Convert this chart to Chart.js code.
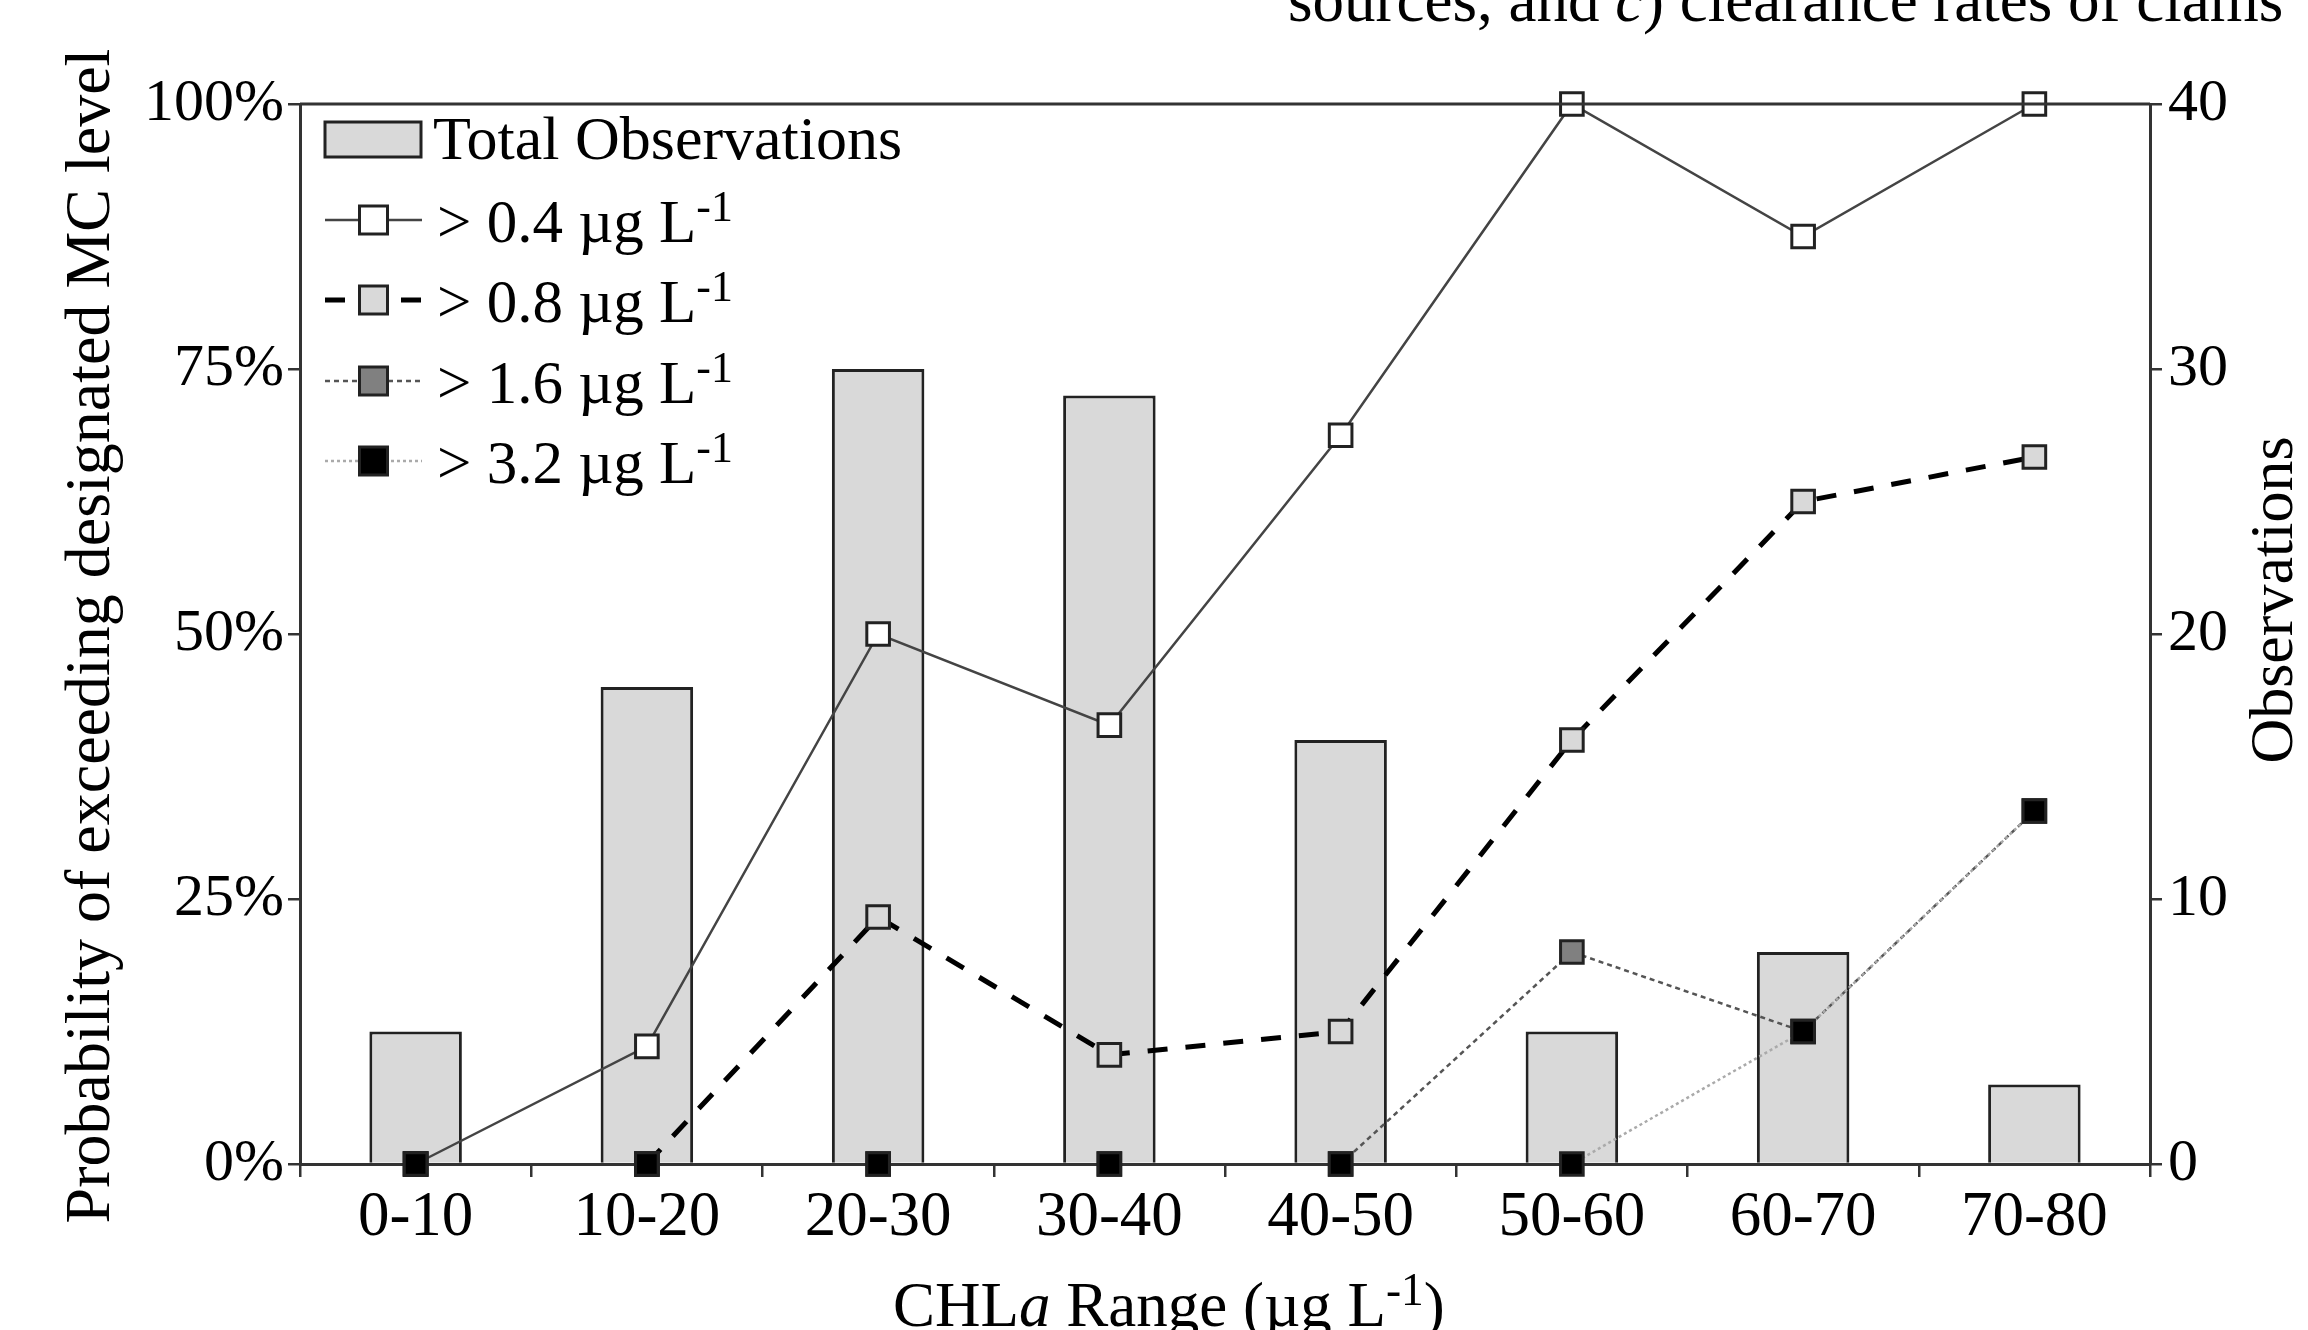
<!DOCTYPE html>
<html>
<head>
<meta charset="utf-8">
<script src="https://cdn.jsdelivr.net/npm/chart.js@4/dist/chart.umd.min.js"></script>
<style>
  html, body { margin: 0; padding: 0; background: #fff; }
  #wrap { width: 2308px; height: 1330px; position: relative; }
</style>
</head>
<body>
<div id="wrap"><canvas id="myChart"></canvas></div>
<script>
const categories = ['0-10', '10-20', '20-30', '30-40', '40-50', '50-60', '60-70', '70-80'];
// number of samples per CHLa range (right axis)
const observations = [5, 18, 30, 29, 16, 5, 8, 3];
// probability (%) of exceeding each MC level
const over04 = [0, 11.1, 50, 41.4, 68.75, 100, 87.5, 100];
const over08 = [0, 0, 23.3, 10.3, 12.5, 40, 62.5, 66.7];
const over16 = [0, 0, 0, 0, 0, 20, 12.5, 33.3];
const over32 = [0, 0, 0, 0, 0, 0, 12.5, 33.3];

const leftTicks = [0, 25, 50, 75, 100];
const rightTicks = [0, 10, 20, 30, 40];
const seriesLabels = ['> 0.4 µg L', '> 0.8 µg L', '> 1.6 µg L', '> 3.2 µg L'];
const unitSup = '-1';
const barLabel = 'Total Observations';

const FAMILY = '"Liberation Serif", "Times New Roman", serif';
Chart.defaults.font.family = FAMILY;
Chart.defaults.color = '#000';

function drawRich(ctx, parts, x, y, size) {
    let cx = x;
    parts.forEach(p => {
        const s = p.sup ? size * 0.72 : size;
        ctx.font = (p.italic ? 'italic ' : '') + s + 'px ' + FAMILY;
        ctx.fillText(p.t, cx, p.sup ? y - size * 0.34 : y);
        cx += ctx.measureText(p.t).width;
    });
    return cx - x;
}

function rotatedText(ctx, text, cx, cy, size) {
    ctx.save();
    ctx.translate(cx, cy);
    ctx.rotate(-Math.PI / 2);
    ctx.font = size + 'px ' + FAMILY;
    ctx.textAlign = 'center';
    ctx.textBaseline = 'middle';
    ctx.fillText(text, 0, 0);
    ctx.restore();
}

const decorations = {
    id: 'decorations',
    afterDraw(chart) {
        const ctx = chart.ctx;
        const area = chart.chartArea;
        ctx.save();
        // top frame line
        ctx.strokeStyle = '#333';
        ctx.lineWidth = 3;
        ctx.beginPath();
        ctx.moveTo(area.left, area.top);
        ctx.lineTo(area.right, area.top);
        ctx.stroke();

        ctx.fillStyle = '#000';
        ctx.textAlign = 'left';
        ctx.textBaseline = 'alphabetic';

        // caption fragment cut at top of figure
        drawRich(ctx, [
            { t: 'sources, and ' }, { t: 'c', italic: true }, { t: ') clearance rates of clams' }
        ], 1288, 21, 63);

        // axis titles
        rotatedText(ctx, 'Probability of exceeding designated MC level', 92, 636, 64);
        rotatedText(ctx, 'Observations', 2276, 600, 62);
        drawRich(ctx, [
            { t: 'CHL' }, { t: 'a', italic: true }, { t: ' Range (µg L' }, { t: unitSup, sup: true }, { t: ')' }
        ], 893, 1326, 63);

        // legend
        const sx0 = 325, sx1 = 422, tx = 437;
        const rows = [139, 220, 300, 381, 461];
        const ds = chart.data.datasets;
        // bar entry
        ctx.fillStyle = ds[0].backgroundColor;
        ctx.fillRect(sx0, rows[0] - 17, 96, 35);
        ctx.strokeStyle = ds[0].borderColor;
        ctx.lineWidth = 3;
        ctx.strokeRect(sx0, rows[0] - 17, 96, 35);
        ctx.fillStyle = '#000';
        drawRich(ctx, [{ t: barLabel }], tx - 4, rows[0] + 20, 62);

        for (let i = 1; i < ds.length; i++) {
            const d = ds[i];
            const cy = rows[i];
            ctx.save();
            ctx.strokeStyle = d.borderColor;
            ctx.lineWidth = d.borderWidth;
            ctx.setLineDash(d.borderDash || []);
            ctx.beginPath();
            ctx.moveTo(sx0, cy);
            ctx.lineTo(sx1, cy);
            ctx.stroke();
            ctx.restore();
            const half = 14;
            const mx = (sx0 + sx1) / 2;
            ctx.fillStyle = d.pointBackgroundColor;
            ctx.fillRect(mx - half, cy - half, half * 2, half * 2);
            ctx.strokeStyle = d.pointBorderColor;
            ctx.lineWidth = 3;
            ctx.strokeRect(mx - half, cy - half, half * 2, half * 2);
            ctx.fillStyle = '#000';
            drawRich(ctx, [{ t: seriesLabels[i - 1] }, { t: unitSup, sup: true }], tx, cy + 22, 61);
        }
        ctx.restore();
    }
};

// segments lying on the zero line are hidden behind the x axis in the original
const hideZeroRun = c => (c.p0.parsed.y === 0 && c.p1.parsed.y === 0) ? 'rgba(0,0,0,0)' : undefined;

function lineSet(label, data, color, width, dash, fill, order) {
    return {
        type: 'line',
        label: label,
        data: data,
        yAxisID: 'y',
        borderColor: color,
        borderWidth: width,
        borderDash: dash,
        fill: false,
        tension: 0,
        pointStyle: 'rect',
        pointRadius: 16,
        pointHoverRadius: 16,
        pointBackgroundColor: fill,
        pointBorderColor: '#222',
        pointBorderWidth: 3,
        segment: { borderColor: hideZeroRun },
        clip: false,
        order: order
    };
}

const ctx = document.getElementById('myChart').getContext('2d');
const myChart = new Chart(ctx, {
    data: {
        labels: categories,
        datasets: [
            {
                type: 'bar',
                label: barLabel,
                data: observations,
                yAxisID: 'y1',
                backgroundColor: '#d9d9d9',
                borderColor: '#222',
                borderWidth: 3,
                barPercentage: 0.4,
                categoryPercentage: 1,
                order: 10
            },
            lineSet(seriesLabels[0] + '⁻¹', over04, '#444', 2.5, [], '#fff', 4),
            lineSet(seriesLabels[1] + '⁻¹', over08, '#000', 5, [20, 18], '#d9d9d9', 3),
            lineSet(seriesLabels[2] + '⁻¹', over16, '#555', 2.5, [5, 4], '#808080', 2),
            lineSet(seriesLabels[3] + '⁻¹', over32, '#aaa', 2.5, [3, 3], '#000', 1)
        ]
    },
    options: {
        responsive: true,
        maintainAspectRatio: false,
        animation: false,
        layout: { padding: { top: 104, left: 0, right: 0, bottom: 0 } },
        plugins: {
            legend: { display: false },
            tooltip: { enabled: false }
        },
        scales: {
            x: {
                offset: true,
                grid: { offset: true, drawOnChartArea: false, tickLength: 13, color: '#333', lineWidth: 2.5 },
                border: { color: '#333', width: 3 },
                ticks: { font: { size: 63 }, color: '#000', padding: 4, maxRotation: 0 },
                afterFit: s => { s.height = 166; }
            },
            y: {
                position: 'left',
                min: 0,
                max: 100,
                afterBuildTicks: s => { s.ticks = leftTicks.map(v => ({ value: v })); },
                grid: { drawOnChartArea: false, tickLength: 12, color: '#333', lineWidth: 2.5 },
                border: { color: '#333', width: 3 },
                ticks: { font: { size: 60 }, color: '#000', padding: 4, callback: v => v + '%' },
                afterFit: s => { s.width = 300; }
            },
            y1: {
                position: 'right',
                min: 0,
                max: 40,
                afterBuildTicks: s => { s.ticks = rightTicks.map(v => ({ value: v })); },
                grid: { drawOnChartArea: false, tickLength: 12, color: '#333', lineWidth: 2.5 },
                border: { color: '#333', width: 3 },
                ticks: { font: { size: 60 }, color: '#000', padding: 6 },
                afterFit: s => { s.width = 158; }
            }
        }
    },
    plugins: [decorations]
});
</script>
</body>
</html>
